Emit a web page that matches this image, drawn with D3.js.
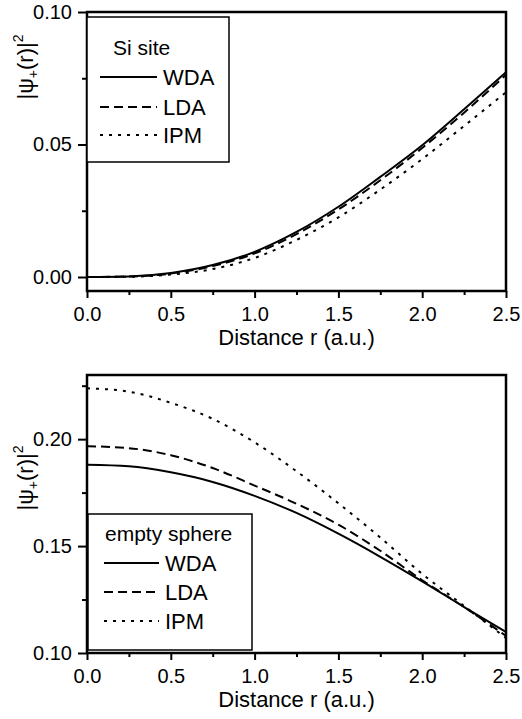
<!DOCTYPE html>
<html>
<head>
<meta charset="utf-8">
<script src="https://cdn.jsdelivr.net/npm/d3@7"></script>
<style>
  body { margin: 0; background: #fff; }
  svg { display: block; }
  text { font-family: "Liberation Sans", Arial, sans-serif; fill: #000; }
  .tick text { font-size: 20px; }
</style>
</head>
<body>
<svg width="522" height="719"></svg>
<script>
// distance grid (a.u.)
var rValues = [0, 0.25, 0.5, 0.75, 1.0, 1.25, 1.5, 1.75, 2.0, 2.25, 2.5];

// Si site panel
var siWDA = [0, 0.0002, 0.0015, 0.0045, 0.0095, 0.0170, 0.0265, 0.0378, 0.0497, 0.0633, 0.0773];
var siLDA = [0, 0.0002, 0.0013, 0.0041, 0.0089, 0.0162, 0.0255, 0.0365, 0.0487, 0.0620, 0.0763];
var siIPM = [0, 0.0001, 0.0009, 0.0030, 0.0072, 0.0140, 0.0225, 0.0330, 0.0445, 0.0570, 0.0697];

// empty sphere panel
var esWDA = [0.1880, 0.1873, 0.1845, 0.1800, 0.1735, 0.1655, 0.1558, 0.1450, 0.1335, 0.1215, 0.1098];
var esLDA = [0.1967, 0.1958, 0.1925, 0.1865, 0.1783, 0.1698, 0.1600, 0.1478, 0.1340, 0.1215, 0.1080];
var esIPM = [0.2238, 0.2222, 0.2170, 0.2095, 0.1985, 0.1850, 0.1700, 0.1540, 0.1370, 0.1220, 0.1070];

var xTicks = [0, 0.5, 1.0, 1.5, 2.0, 2.5];
var xMinor = [0.25, 0.75, 1.25, 1.75, 2.25];
var siYTicks = [0, 0.05, 0.10];
var siYMinor = [0.025, 0.075];
var esYTicks = [0.10, 0.15, 0.20];
var esYMinor = [0.125, 0.175, 0.225];

var seriesNames = ["WDA", "LDA", "IPM"];
var dashes = [null, "9,5", "3,6"];

var svg = d3.select("svg");

function panel(opt) {
  var x = d3.scaleLinear().domain([0, 2.5]).range([87, 506]);
  var y = d3.scaleLinear().domain(opt.yDomain).range([opt.bottom, opt.top]);
  var g = svg.append("g");

  // minor ticks
  g.append("g").attr("transform", "translate(0," + opt.bottom + ")")
    .call(d3.axisBottom(x).tickValues(xMinor).tickSize(4).tickFormat(""))
    .call(function (a) { a.select(".domain").remove(); });
  g.append("g").attr("transform", "translate(87,0)")
    .call(d3.axisLeft(y).tickValues(opt.yMinor).tickSize(5).tickFormat(""))
    .call(function (a) { a.select(".domain").remove(); });

  // major ticks
  g.append("g").attr("transform", "translate(0," + opt.bottom + ")")
    .call(d3.axisBottom(x).tickValues(xTicks).tickSize(7).tickPadding(9).tickFormat(d3.format(".1f")))
    .call(function (a) { a.select(".domain").remove(); });
  g.append("g").attr("transform", "translate(87,0)")
    .call(d3.axisLeft(y).tickValues(opt.yTicks).tickSize(9).tickPadding(6).tickFormat(d3.format(".2f")))
    .call(function (a) { a.select(".domain").remove(); });
  g.selectAll(".tick line").attr("stroke", "#000").attr("stroke-width", 2);

  // curves
  var line = d3.line()
    .x(function (d, i) { return x(rValues[i]); })
    .y(function (d) { return y(d); })
    .curve(d3.curveMonotoneX);
  opt.series.forEach(function (s, i) {
    g.append("path")
      .attr("d", line(s))
      .attr("fill", "none")
      .attr("stroke", "#000")
      .attr("stroke-width", 2)
      .attr("stroke-dasharray", dashes[i]);
  });

  // frame
  g.append("rect")
    .attr("x", 87).attr("y", opt.top)
    .attr("width", 506 - 87).attr("height", opt.bottom - opt.top)
    .attr("fill", "none").attr("stroke", "#000").attr("stroke-width", 2.5);

  // axis title
  g.append("text")
    .attr("x", (87 + 506) / 2).attr("y", opt.bottom + 54)
    .attr("text-anchor", "middle").attr("font-size", 22)
    .text("Distance r (a.u.)");

  // y label |psi+(r)|^2
  var yl = g.append("text")
    .attr("transform", "translate(33," + opt.yLabelY + ") rotate(-90)")
    .attr("text-anchor", "middle").attr("font-size", 22);
  yl.append("tspan").text("|ψ");
  yl.append("tspan").attr("font-size", 14).attr("dy", 5).text("+");
  yl.append("tspan").attr("dy", -5).text("(r)|");
  yl.append("tspan").attr("font-size", 14).attr("dy", -10).text("2");

  // legend
  var L = opt.legend;
  g.append("rect")
    .attr("x", L.x).attr("y", L.y).attr("width", L.w).attr("height", L.h)
    .attr("fill", "#fff").attr("stroke", "#000").attr("stroke-width", 1.5);
  g.append("text")
    .attr("x", L.titleX).attr("y", L.titleY)
    .attr("font-size", 21).text(L.title);
  seriesNames.forEach(function (n, i) {
    var ly = L.rows[i];
    g.append("line")
      .attr("x1", L.lineX0).attr("x2", L.lineX1)
      .attr("y1", ly).attr("y2", ly)
      .attr("stroke", "#000").attr("stroke-width", 2)
      .attr("stroke-dasharray", dashes[i]);
    g.append("text")
      .attr("x", L.lineX1 + 6).attr("y", ly + 8)
      .attr("font-size", 22).text(n);
  });
}

panel({
  top: 12, bottom: 291, yDomain: [-0.00528, 0.10],
  yTicks: siYTicks, yMinor: siYMinor, yLabelY: 67,
  series: [siWDA, siLDA, siIPM],
  legend: { x: 87, y: 17, w: 142, h: 145, title: "Si site", titleX: 113, titleY: 55,
            lineX0: 100, lineX1: 157, rows: [77, 107, 135] }
});

panel({
  top: 375, bottom: 653, yDomain: [0.10, 0.23],
  yTicks: esYTicks, yMinor: esYMinor, yLabelY: 478,
  series: [esWDA, esLDA, esIPM],
  legend: { x: 88, y: 514, w: 164, h: 136, title: "empty sphere", titleX: 105, titleY: 541,
            lineX0: 104, lineX1: 159, rows: [563, 592, 621] }
});
</script>
</body>
</html>
